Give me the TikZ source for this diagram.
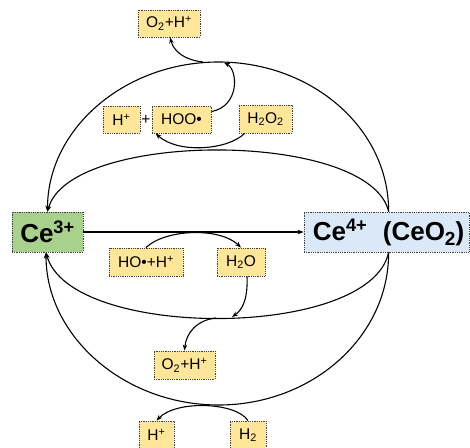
\documentclass[tikz,border=0pt]{standalone}
\usepackage{fontspec}
\setmainfont{Liberation Sans}
\usetikzlibrary{arrows.meta,calc}
\definecolor{boxy}{HTML}{FFE699}
\definecolor{boxg}{HTML}{A9D18E}
\definecolor{boxb}{HTML}{DAE8F7}
\definecolor{bord}{HTML}{404040}
\begin{document}
\begin{tikzpicture}[x=1pt,y=-1pt,
  lab/.style={draw=bord,densely dotted,line width=0.8pt,fill=boxy,inner sep=0pt,font=\fontsize{15.5}{17}\selectfont},
  big/.style={draw=bord,densely dotted,line width=0.8pt,inner sep=0pt,font=\bfseries\fontsize{26}{29}\selectfont},
  conn/.style={line width=1.1pt,-{Stealth[length=6pt,width=4.5pt]}},
]
\useasboundingbox (0,0) rectangle (470,447);
% main nodes
\node[big,fill=boxg,minimum width=71pt,minimum height=40pt] (ce3) at (47.5,232) {Ce\textsuperscript{3+}};
\node[big,fill=boxb,minimum width=165pt,minimum height=40pt] (ce4) at (386.5,232) {\hspace{4pt}Ce\textsuperscript{4+}\hspace{0.6em}(CeO\raisebox{-5pt}{\fontsize{19}{19}\selectfont 2})};
% small nodes
\node[lab,minimum width=62pt,minimum height=27pt] (o2top) at (169,23.5) {O\textsubscript{2}+H\textsuperscript{+}};
\node[lab,minimum width=37pt,minimum height=27pt] (hp1) at (121.5,119.5) {H\textsuperscript{+}};
\node[font=\fontsize{15.5}{17}\selectfont,inner sep=0pt] (plus) at (146,120) {+};
\node[lab,minimum width=59pt,minimum height=27pt] (hoo) at (181.5,119.5) {HOO•};
\node[lab,minimum width=53pt,minimum height=28pt] (h2o2) at (265.5,119) {H\textsubscript{2}O\textsubscript{2}};
\node[lab,minimum width=74pt,minimum height=28pt] (hoh) at (146,262) {HO•+H\textsuperscript{+}};
\node[lab,minimum width=48pt,minimum height=28pt] (h2o) at (241,262) {H\textsubscript{2}O};
\node[lab,minimum width=61pt,minimum height=28pt] (o2bot) at (184.5,365) {O\textsubscript{2}+H\textsuperscript{+}};
\node[lab,minimum width=35pt,minimum height=28pt] (hp2) at (156.5,435) {H\textsuperscript{+}};
\node[lab,minimum width=36pt,minimum height=28pt] (h2) at (248,435) {H\textsubscript{2}};
% anchor points on Ce4+
\coordinate (t4) at ($(ce4.north west)+(85,0)$);
\coordinate (b4) at ($(ce4.south west)+(85,0)$);
% main connectors
\draw[conn] (ce3.east) -- (ce4.west);
\draw[conn] (t4) .. controls (389,129) and (312.6,62) .. (218.5,62) .. controls (124.4,62) and (47.5,129) .. (ce3.north);
\draw[conn] (t4) .. controls (370,130) and (70,130) .. (ce3.north);
\draw[conn] (b4) .. controls (370,340) and (70,340) .. ($(ce3.south)+(-1.5,0)$);
\draw[conn] (b4) .. controls (389,336.5) and (312.6,405) .. (218.5,405) .. controls (124.4,405) and (46,336.5) .. ($(ce3.south)+(-1.5,0)$);
% small connectors
\coordinate (a1) at (224,62.5);
\coordinate (a2) at (203,62);
\draw[conn] ($(hoo.north east)+(0,6)$) .. controls (240,106) and (238,70) .. (a1);
\draw[conn] (a2) .. controls (185,60) and (174,52) .. ($(o2top.south)+(1,0)$);
\draw[conn] ($(h2o2.south west)+(6,0)$) .. controls (228,150) and (178,154) .. ($(hoo.south west)+(4,0)$);
\draw[conn] (hoh.north) .. controls (165,229) and (220,227) .. (h2o.north);
\coordinate (a3) at (232,317);
\coordinate (a4) at (216,318);
\draw[conn] ($(h2o.south)+(6,0)$) .. controls (248,300) and (242,310) .. (a3);
\draw[conn] (a4) .. controls (196,320) and (186,334) .. (o2bot.north);
\draw[conn] (h2.north) .. controls (236,402) and (176,400) .. (hp2.north);
\end{tikzpicture}
\end{document}
